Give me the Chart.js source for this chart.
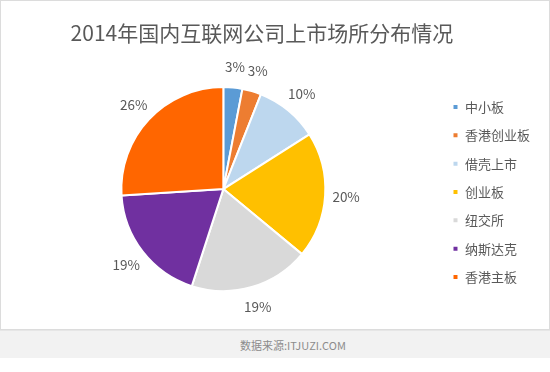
<!DOCTYPE html>
<html>
<head>
<meta charset="utf-8">
<script src="https://cdn.jsdelivr.net/npm/chart.js@4"></script>
<style>
  body { margin: 0; background: #fff; width: 550px; height: 372px; overflow: hidden; font-family: "Noto Sans CJK SC", "Noto Sans", sans-serif; }
  #frame { position: absolute; left: 0; top: 0; width: 548px; height: 328px; border: 1px solid #dcdcdc; }
  #footer { position: absolute; left: 0; top: 330px; width: 550px; height: 27px; background: #f2f2f2; border-top: 1px solid #e6e6e6; }
  #source { position: absolute; left: 240px; top: 6px; font-size: 11px; color: #8c8c8c; }
</style>
</head>
<body>
<div id="frame"><canvas id="pie" width="548" height="328"></canvas></div>
<div id="footer"><span id="source">数据来源:ITJUZI.COM</span></div>
<script>
// Data
const titleText = '2014年国内互联网公司上市场所分布情况';
const venues = ['中小板', '香港创业板', '借壳上市', '创业板', '纽交所', '纳斯达克', '香港主板'];
const shares = [3, 3, 10, 20, 19, 19, 26];
const colors = ['#5b9bd5', '#ed7d31', '#bdd7ee', '#ffc000', '#d9d9d9', '#7030a0', '#ff6600'];

const textColor = '#595959';
const fontFamily = '"Noto Sans CJK SC", "Noto Sans", sans-serif';

// Percent labels drawn just outside each slice
const outsideLabels = {
    id: 'outsideLabels',
    afterDatasetsDraw(chart) {
        const ctx = chart.ctx;
        const meta = chart.getDatasetMeta(0);
        ctx.save();
        ctx.fillStyle = textColor;
        ctx.font = '13.5px ' + fontFamily;
        ctx.textAlign = 'center';
        ctx.textBaseline = 'middle';
        meta.data.forEach((arc, i) => {
            const p = arc.getProps(['x', 'y', 'startAngle', 'endAngle', 'outerRadius'], true);
            const mid = (p.startAngle + p.endAngle) / 2;
            const r = p.outerRadius + 21;
            ctx.fillText(shares[i] + '%', p.x + Math.cos(mid) * r, p.y + Math.sin(mid) * r);
        });
        ctx.restore();
    }
};

const ctx = document.getElementById('pie').getContext('2d');
new Chart(ctx, {
    type: 'pie',
    data: {
        labels: venues,
        datasets: [{
            data: shares,
            backgroundColor: colors,
            borderColor: '#ffffff',
            borderWidth: 2
        }]
    },
    options: {
        responsive: false,
        animation: false,
        radius: 102,
        layout: { padding: { left: 8.5, right: 9, top: 0, bottom: 20 } },
        plugins: {
            title: {
                display: true,
                // trailing space nudges the centred title a little to the left, as in the original
                text: titleText + '\u3000 ',
                color: textColor,
                font: { family: fontFamily, size: 21, weight: 'normal' },
                padding: { top: 19, bottom: 24 }
            },
            legend: {
                position: 'right',
                // empty title only pushes the items down
                title: { display: true, text: ' ', font: { size: 10 }, padding: { top: 62, bottom: 0 } },
                labels: {
                    color: textColor,
                    font: { family: fontFamily, size: 13 },
                    boxWidth: 6,
                    boxHeight: 6,
                    padding: 15.33
                }
            },
            tooltip: { enabled: false }
        }
    },
    plugins: [outsideLabels]
});
</script>
</body>
</html>
